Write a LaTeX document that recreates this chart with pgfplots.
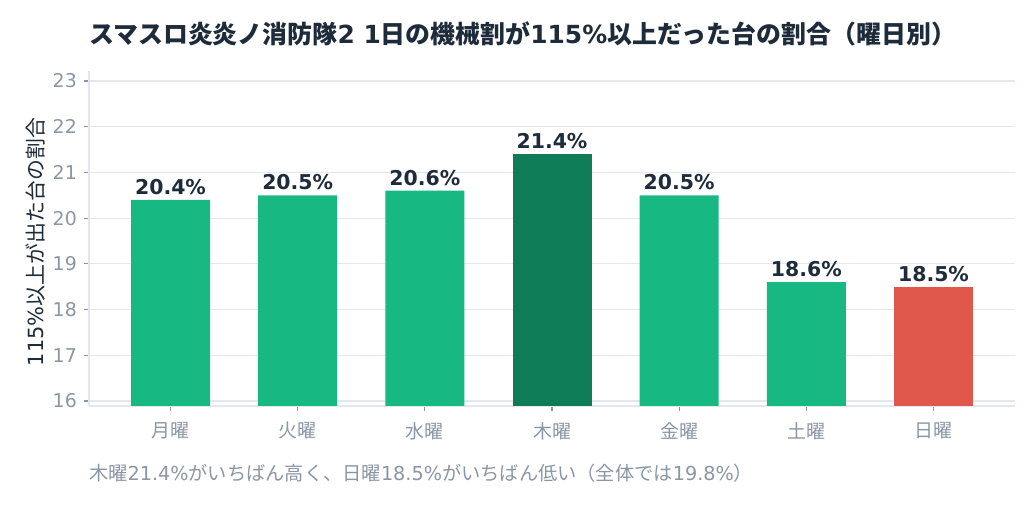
\documentclass[border=0pt]{standalone}
\usepackage{pgfplots}
\pgfplotsset{compat=1.18}
\usepackage{fontspec}
\setmainfont{DejaVu Sans}
\newfontfamily\jp{Noto Sans CJK JP}
\definecolor{greenc}{HTML}{18B883}
\definecolor{darkc}{HTML}{0E7C57}
\definecolor{redc}{HTML}{E0574C}
\definecolor{tickc}{HTML}{8A96A6}
\definecolor{titlec}{HTML}{1E2B3A}
\definecolor{gridc}{HTML}{E4E8EE}
\begin{document}
\begin{tikzpicture}
\useasboundingbox (0,0) rectangle (1036bp,518bp);
\begin{axis}[
  at={(89bp,112bp)}, anchor=south west,
  scale only axis, width=926bp, height=335bp,
  xmin=-0.641, xmax=6.641, ymin=15.89, ymax=23.22,
  ybar, bar width=79bp, bar shift=0pt,
  axis x line=bottom, axis y line=left,
  axis line style={-, draw=gridc, line width=1.2bp},
  xtick={0,1,2,3,4,5,6},
  xticklabels={月曜,火曜,水曜,木曜,金曜,土曜,日曜},
  ytick={16,17,18,19,20,21,22,23},
  ymajorgrids, grid style={draw=gridc, line width=1.2bp},
  tick align=outside, major tick length=5bp,
  tick style={draw=tickc, line width=1.2bp},
  /pgf/number format/assume math mode=true,
  yticklabel style={font=\fontsize{19}{19}\selectfont, text=tickc, inner sep=7bp},
  xticklabel style={font=\jp\fontsize{19}{19}\selectfont, text=tickc, inner sep=6bp, yshift=-5bp},
  nodes near coords={\pgfmathprintnumber[fixed,precision=1,fixed zerofill]{\pgfplotspointmeta}\%},
  every node near coord/.append style={font=\bfseries\fontsize{20.5}{20.5}\selectfont, text=titlec, anchor=south, inner sep=0pt, yshift=5bp},
  clip=true,
]
\addplot[fill=greenc, draw=none] coordinates {(0,20.4) (1,20.5) (2,20.6) (4,20.5) (5,18.6)};
\addplot[fill=darkc, draw=none] coordinates {(3,21.4)};
\addplot[fill=redc, draw=none] coordinates {(6,18.5)};
\end{axis}
\node[anchor=base west, font=\bfseries\fontsize{25}{25}\selectfont, text=titlec, inner sep=0pt] at (89bp,474bp)
  {{\jp スマスロ炎炎ノ消防隊}2 1{\jp 日の機械割が}115\%{\jp 以上だった台の割合（曜日別）}};
\node[rotate=90, font=\fontsize{21}{21}\selectfont, text=titlec, inner sep=0pt] at (36bp,276bp)
  {115\%{\jp 以上が出た台の割合}};
\node[anchor=base west, font=\fontsize{19.3}{19.3}\selectfont, text=tickc, inner sep=0pt] at (89bp,38bp)
  {{\jp 木曜}21.4\%{\jp がいちばん高く、日曜}18.5\%{\jp がいちばん低い（全体では}19.8\%{\jp ）}};
\end{tikzpicture}
\end{document}
